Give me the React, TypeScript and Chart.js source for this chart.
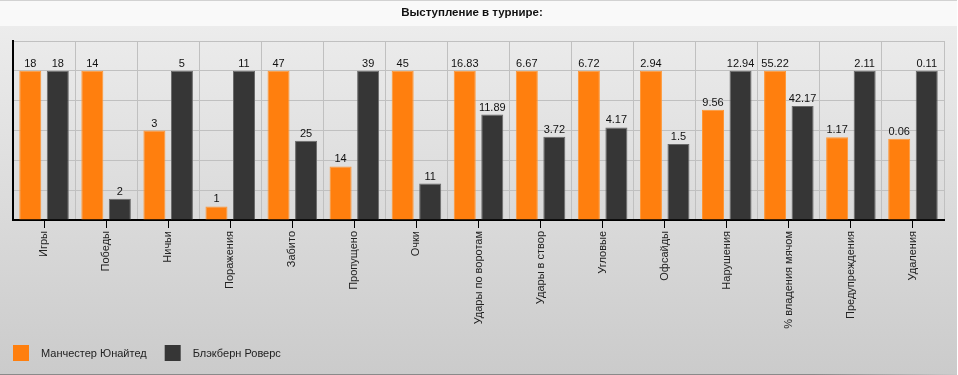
import React, { useEffect, useRef } from "react";
import { Chart, registerables } from "chart.js";

Chart.register(...registerables);

const categories = [
  "Игры",
  "Победы",
  "Ничьи",
  "Поражения",
  "Забито",
  "Пропущено",
  "Очки",
  "Удары по воротам",
  "Удары в створ",
  "Угловые",
  "Офсайды",
  "Нарушения",
  "% владения мячом",
  "Предупреждения",
  "Удаления",
];
const manUtdValues = [18, 14, 3, 1, 47, 14, 45, 16.83, 6.67, 6.72, 2.94, 9.56, 55.22, 1.17, 0.06];
const blackburnValues = [18, 2, 5, 11, 25, 39, 11, 11.89, 3.72, 4.17, 1.5, 12.94, 42.17, 2.11, 0.11];
const seriesNames = ["Манчестер Юнайтед", "Блэкберн Роверс"];
const seriesColors = ["#ff7f0e", "#363636"];
const seriesBorders = ["#ff9736", "#6a6a6a"];
const chartTitle = "Выступление в турнире:";
const yMax = 120;
const yStep = 20;

const FONT = "'Liberation Sans', Arial, sans-serif";

// share of the larger value in each category, in percent
const rawSeries = [manUtdValues, blackburnValues];
const scaledSeries = rawSeries.map((vals) =>
  vals.map((v, i) => (v / Math.max(manUtdValues[i], blackburnValues[i])) * 100)
);

const backgroundPlugin = {
  id: "panelBackground",
  beforeDraw(chart: any) {
    const { ctx, width, height } = chart;
    ctx.save();
    ctx.fillStyle = "#ffffff";
    ctx.fillRect(0, 0, width, height);
    const w = width - 1;
    ctx.fillStyle = "#d2d2d2";
    ctx.fillRect(0, 0, w, 1);
    ctx.fillStyle = "#f9f9f9";
    ctx.fillRect(0, 1, w, 25);
    const g = ctx.createLinearGradient(0, 26, 0, height - 1);
    g.addColorStop(0, "#ececec");
    g.addColorStop(1, "#cbcbcb");
    ctx.fillStyle = g;
    ctx.fillRect(0, 26, w, height - 27);
    const gb = ctx.createLinearGradient(0, 0, w, 0);
    gb.addColorStop(0, "#8a8a8a");
    gb.addColorStop(0.85, "#8a8a8a");
    gb.addColorStop(1, "#c8c8c8");
    ctx.fillStyle = gb;
    ctx.fillRect(0, height - 1, w, 1);
    ctx.restore();
  },
};

const valueLabelPlugin = {
  id: "valueLabels",
  afterDatasetsDraw(chart: any) {
    const { ctx } = chart;
    ctx.save();
    ctx.font = `11px ${FONT}`;
    ctx.fillStyle = "#111111";
    ctx.textAlign = "center";
    ctx.textBaseline = "alphabetic";
    chart.data.datasets.forEach((ds: any, di: number) => {
      const meta = chart.getDatasetMeta(di);
      meta.data.forEach((el: any, i: number) => {
        ctx.fillText(String(rawSeries[di][i]), el.x, el.y - 4);
      });
    });
    ctx.restore();
  },
};

const tickMarkPlugin = {
  id: "centerTicks",
  afterDraw(chart: any) {
    const { ctx, chartArea } = chart;
    const xs = chart.scales.x;
    ctx.save();
    ctx.strokeStyle = "#000000";
    ctx.lineWidth = 1;
    ctx.beginPath();
    xs.ticks.forEach((_t: any, i: number) => {
      const x = Math.floor(xs.getPixelForTick(i)) + 0.5;
      ctx.moveTo(x, chartArea.bottom + 1);
      ctx.lineTo(x, chartArea.bottom + 8);
    });
    ctx.stroke();
    ctx.restore();
  },
};

const legendPlugin = {
  id: "bottomLegend",
  afterDraw(chart: any) {
    const { ctx } = chart;
    ctx.save();
    ctx.font = `11px ${FONT}`;
    ctx.textAlign = "left";
    ctx.textBaseline = "middle";
    let x = 13;
    const y = 345;
    chart.data.datasets.forEach((ds: any) => {
      ctx.fillStyle = ds.backgroundColor;
      ctx.fillRect(x, y, 16, 16);
      ctx.fillStyle = "#222222";
      const tx = x + 28;
      ctx.fillText(ds.label, tx, y + 9);
      x = tx + ctx.measureText(ds.label).width + 18;
    });
    ctx.restore();
  },
};

export default function App() {
  const canvasRef = useRef<HTMLCanvasElement | null>(null);

  useEffect(() => {
    document.body.style.margin = "0";
    const canvas = canvasRef.current;
    if (!canvas) return;
    const chart = new Chart(canvas, {
      type: "bar",
      data: {
        labels: categories,
        datasets: seriesNames.map((name, di) => ({
          label: name,
          data: scaledSeries[di],
          backgroundColor: seriesColors[di],
          borderColor: seriesBorders[di],
          borderWidth: 1,
          categoryPercentage: 0.887,
          barPercentage: 0.8,
        })),
      },
      options: {
        animation: false,
        responsive: false,
        maintainAspectRatio: false,
        devicePixelRatio: 1,
        layout: { padding: { left: 0, right: 14, top: 0, bottom: 0 } },
        plugins: {
          legend: { display: false },
          tooltip: { enabled: false },
          title: {
            display: true,
            text: chartTitle,
            color: "#111111",
            font: { family: FONT, size: 11.5, weight: "bold", lineHeight: 1.2 },
            padding: { top: 5.5, bottom: 21.7 },
          },
        },
        scales: {
          x: {
            grid: {
              offset: true,
              color: "#c0c0c0",
              lineWidth: 1,
              drawTicks: false,
            },
            border: { display: true, color: "#000000", width: 2 },
            ticks: {
              minRotation: 90,
              maxRotation: 90,
              autoSkip: false,
              padding: 11,
              color: "#222222",
              font: { family: FONT, size: 11 },
            },
            afterFit(scale: any) {
              scale.height = 155;
            },
          },
          y: {
            min: 0,
            max: yMax,
            ticks: { display: false, stepSize: yStep },
            grid: { color: "#c0c0c0", lineWidth: 1, drawTicks: false },
            border: { display: true, color: "#000000", width: 2 },
            afterFit(scale: any) {
              scale.width = 13;
            },
          },
        },
      },
      plugins: [backgroundPlugin, valueLabelPlugin, tickMarkPlugin, legendPlugin],
    });
    return () => chart.destroy();
  }, []);

  return (
    <div style={{ width: 958, height: 375 }}>
      <canvas ref={canvasRef} width={958} height={375} style={{ display: "block" }} />
    </div>
  );
}
